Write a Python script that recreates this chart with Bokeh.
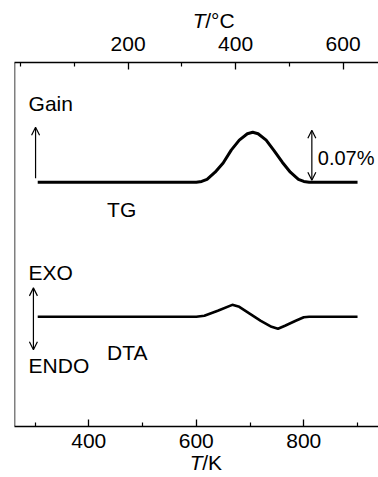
from bokeh.plotting import figure
from bokeh.layouts import column
from bokeh.models import (Range1d, LinearAxis, FixedTicker, Span, Arrow, OpenHead,
                          Label)
from bokeh.embed import file_html
from bokeh.resources import INLINE

# ---- data ----
tg_T = [305, 600, 610, 620, 635, 650, 665, 680, 695, 705, 715, 730, 745, 760, 775, 790, 800, 810, 900]
tg_mass = [0, 0, 0.001, 0.004, 0.014, 0.027, 0.045, 0.059, 0.068, 0.070, 0.068, 0.059, 0.044,
           0.028, 0.014, 0.004, 0.001, 0, 0]          # mass gain, %

dta_T = [305, 600, 615, 640, 667, 680, 700, 720, 740, 752, 765, 785, 800, 810, 900]
dta_sig = [0, 0, 0.1, 0.6, 1.2, 1.0, 0.3, -0.4, -1.0, -1.2, -0.9, -0.4, -0.05, 0, 0]  # a.u.

k_major = [400, 600, 800]
k_minor = [300, 500, 700, 900]
c_major = [200, 400, 600]
c_minor = [0, 100, 300, 500]

FONT = "Liberation Sans"
FS = "21px"
W = 378
H_HEAD, H_MAIN, H_FOOT = 31, 419, 27


def no_title(f):
    try:
        f.title = None
    except Exception:
        f.title.visible = False


x_lo, x_hi = 261.8, 939.0
p = figure(width=W, height=H_MAIN, output_backend="svg", toolbar_location=None,
           x_range=Range1d(x_lo, x_hi), y_range=Range1d(-0.343, 0.168),
           y_axis_location=None, min_border_left=14, min_border_right=0,
           min_border_top=31, min_border_bottom=23)
no_title(p)
p.extra_y_ranges = {"dta": Range1d(-11.0, 25.5)}
p.extra_x_ranges = {"C": Range1d(x_lo - 273.15, x_hi - 273.15)}
p.outline_line_color = None
p.grid.visible = False
p.background_fill_color = "white"
p.border_fill_color = "white"

def style_axis(ax, major, minor):
    ax.ticker = FixedTicker(ticks=major, minor_ticks=minor)
    ax.major_tick_in = 7
    ax.major_tick_out = 0
    ax.minor_tick_in = 4
    ax.minor_tick_out = 0
    ax.axis_line_width = 1.5
    ax.major_tick_line_width = 1.3
    ax.minor_tick_line_width = 1.2
    ax.axis_line_color = "black"
    ax.major_label_text_font = FONT
    ax.major_label_text_font_size = FS
    ax.major_label_text_color = "black"

style_axis(p.xaxis[0], k_major, k_minor)
p.xaxis[0].major_label_standoff = 7

top = LinearAxis(x_range_name="C")
style_axis(top, c_major, c_minor)
top.major_label_standoff = 12
p.add_layout(top, "above")

# left frame line
p.add_layout(Span(location=x_lo, dimension="height", line_color="black", line_width=1.5))

# curves
p.line(tg_T, tg_mass, line_color="black", line_width=3)
p.line(dta_T, dta_sig, line_color="black", line_width=2.6, y_range_name="dta")

# arrows
def arrow(x0, y0, x1, y1, both=False, rng="default"):
    a = Arrow(x_start=x0, y_start=y0, x_end=x1, y_end=y1, line_width=1.2,
              end=OpenHead(size=8, line_width=1.2),
              start=OpenHead(size=8, line_width=1.2) if both else None,
              y_range_name=rng)
    p.add_layout(a)

arrow(301, 0.0056, 301, 0.077)
arrow(815, 0.0028, 815, max(tg_mass) + 0.0028, both=True)
arrow(297, -3.3, 297, 2.9, both=True, rng="dta")

def label(fig, x, y, text, rng="default", style="normal", size=FS):
    fig.add_layout(Label(x=x, y=y, text=text, y_range_name=rng, text_font=FONT,
                         text_font_size=size, text_baseline="middle", text_align="left",
                         text_font_style=style, text_color="black"))

label(p, 288, 0.1106, "Gain")
label(p, 434, -0.038, "TG")
label(p, 826, 0.0336, "0.07%", size="20px")
label(p, 288, 4.4, "EXO", rng="dta")
label(p, 288, -4.9, "ENDO", rng="dta")
label(p, 434, -3.6, "DTA", rng="dta")

# header / footer strips carrying the axis titles (italic T)
def strip(h):
    f = figure(width=W, height=h, output_backend="svg", toolbar_location=None,
               x_range=Range1d(0, W), y_range=Range1d(0, h),
               x_axis_location=None, y_axis_location=None,
               min_border_left=0, min_border_right=0, min_border_top=0, min_border_bottom=0)
    no_title(f)
    f.outline_line_color = None
    f.grid.visible = False
    f.background_fill_color = "white"
    f.border_fill_color = "white"
    return f

head = strip(H_HEAD)
label(head, 185, 11.5, "T", style="italic")
label(head, 198, 11.5, "/°C")

foot = strip(H_FOOT)
label(foot, 182, 15, "T", style="italic")
label(foot, 195, 15, "/K")

layout = column(head, p, foot, spacing=0)
open("out.html", "w").write(file_html(layout, INLINE))
